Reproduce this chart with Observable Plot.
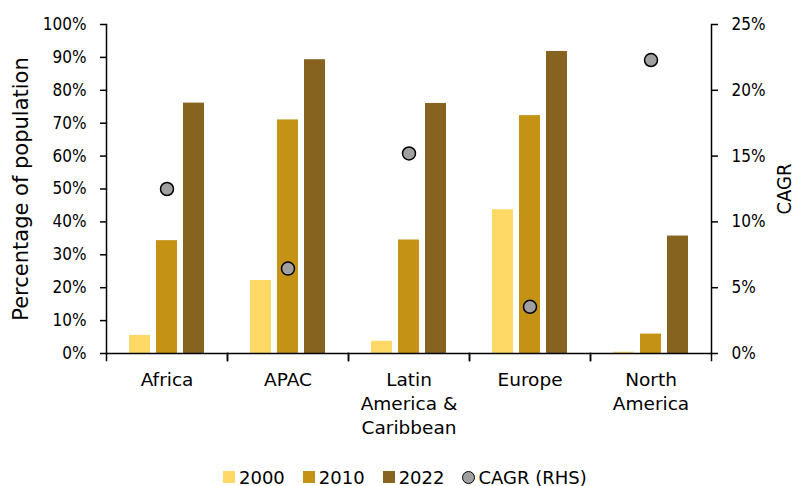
<!DOCTYPE html>
<html>
<head>
<meta charset="utf-8">
<script src="https://cdn.jsdelivr.net/npm/d3@7"></script>
<script src="https://cdn.jsdelivr.net/npm/@observablehq/plot@0.6"></script>
<style>
  html, body { margin: 0; padding: 0; background: #fff; }
  #chart { width: 796px; }
  .legend { display: flex; align-items: center; height: 22px; margin-top: 4px; margin-left: 223px;
            font-family: "DejaVu Sans", sans-serif; font-size: 18px; color: #000; }
  .legend .item { display: flex; align-items: center; margin-right: 18px; }
  .legend .sw { width: 12px; height: 12px; margin-right: 4px; }
  .legend .dot { width: 11px; height: 11px; border-radius: 50%; background: #a0a0a0; border: 1.5px solid #000; margin-right: 3px; }
</style>
</head>
<body>
<div id="chart"></div>
<script>
// Internet penetration by region, share of population, with CAGR on the right axis
const regions = ["Africa", "APAC", "Latin America & Caribbean", "Europe", "North America"];
const regionLabels = ["Africa", "APAC", "Latin\nAmerica &\nCaribbean", "Europe", "North\nAmerica"];
const years = ["2000", "2010", "2022"];
const share2000 = [5.5, 22.2, 3.7, 43.7, 0.4];
const share2010 = [34.3, 71.0, 34.5, 72.3, 5.9];
const share2022 = [76.1, 89.3, 76.0, 91.8, 35.7];
const cagr = [12.5, 6.45, 15.2, 3.55, 22.3];
const leftTicks = [0, 10, 20, 30, 40, 50, 60, 70, 80, 90, 100];
const rightTicks = [0, 5, 10, 15, 20, 25];
const colors = ["#ffd966", "#c49214", "#86631e"];

const leftMax = 100, rightMax = 25;
const k = leftMax / rightMax; // right-axis value -> left-axis units

const seriesByYear = [share2000, share2010, share2022];
const bars = regions.flatMap((r, i) => years.map((y, j) => ({region: r, year: y, value: seriesByYear[j][i]})));
const dots = regions.map((r, i) => ({region: r, cagr: cagr[i]}));
const labelOf = new Map(regions.map((r, i) => [r, regionLabels[i]]));

const W = 796, H = 462, mT = 24, mB = 109, mL = 106, mR = 85;
const innerH = H - mT - mB;
const tickFont = "'DejaVu Sans Condensed', 'DejaVu Sans', sans-serif";

const chart = Plot.plot({
  width: W, height: H,
  marginTop: mT, marginBottom: mB, marginLeft: mL, marginRight: mR,
  style: {fontFamily: "'DejaVu Sans', sans-serif", fontSize: "18px", color: "#000", background: "#fff"},
  fx: {domain: regions, padding: 0, label: null},
  x: {domain: years, paddingInner: 6 / 27, paddingOuter: 23 / 27, axis: null},
  y: {domain: [0, leftMax]},
  color: {domain: years, range: colors},
  marks: [
    Plot.barY(bars, {fx: "region", x: "year", y: "value", fill: "year"}),
    Plot.ruleY([0], {stroke: "#000", strokeWidth: 1.5}),
    Plot.frame({anchor: "left", facetAnchor: "left", stroke: "#000", strokeWidth: 1.5}),
    Plot.frame({anchor: "right", facetAnchor: "right", stroke: "#000", strokeWidth: 1.5}),
    // category boundary ticks below the baseline
    Plot.frame({anchor: "left", insetTop: innerH, insetBottom: -7, stroke: "#000", strokeWidth: 1.5}),
    Plot.frame({anchor: "right", insetTop: innerH, insetBottom: -7, stroke: "#000", strokeWidth: 1.5}),
    Plot.dot(dots, {fx: "region", x: () => "2010", y: d => d.cagr * k, r: 6.5, fill: "#a0a0a0", stroke: "#000", strokeWidth: 1.5}),
    Plot.axisY(leftTicks, {anchor: "left", tickFormat: d => `${d}%`, tickSize: 6, tickPadding: 14, strokeWidth: 1.5,
      fontFamily: tickFont, fontSize: 17, label: null}),
    Plot.axisY(rightTicks.map(v => v * k), {anchor: "right", tickFormat: d => `${d / k}%`, tickSize: 6, tickPadding: 14, strokeWidth: 1.5,
      fontFamily: tickFont, fontSize: 17, label: null}),
    Plot.axisFx({anchor: "bottom", tickSize: 0, tickPadding: 16, lineHeight: 1.28, fontSize: 18.5, tickFormat: d => labelOf.get(d), label: null}),
    Plot.text(["Percentage of population"], {frameAnchor: "left", facetAnchor: "left", rotate: -90, dx: -85,
      textAnchor: "middle", fontSize: 21, fill: "#000"}),
    Plot.text(["CAGR"], {frameAnchor: "right", facetAnchor: "right", rotate: -90, dx: 73,
      textAnchor: "middle", fontFamily: tickFont, fontSize: 20, fill: "#000"})
  ]
});
document.getElementById("chart").appendChild(chart);

// legend below the chart
const legend = document.createElement("div");
legend.className = "legend";
years.forEach((y, j) => {
  const it = document.createElement("div");
  it.className = "item";
  it.innerHTML = `<span class="sw" style="background:${colors[j]}"></span><span>${y}</span>`;
  legend.appendChild(it);
});
const ci = document.createElement("div");
ci.className = "item";
ci.innerHTML = `<span class="dot"></span><span>CAGR (RHS)</span>`;
legend.appendChild(ci);
document.getElementById("chart").appendChild(legend);
</script>
</body>
</html>
